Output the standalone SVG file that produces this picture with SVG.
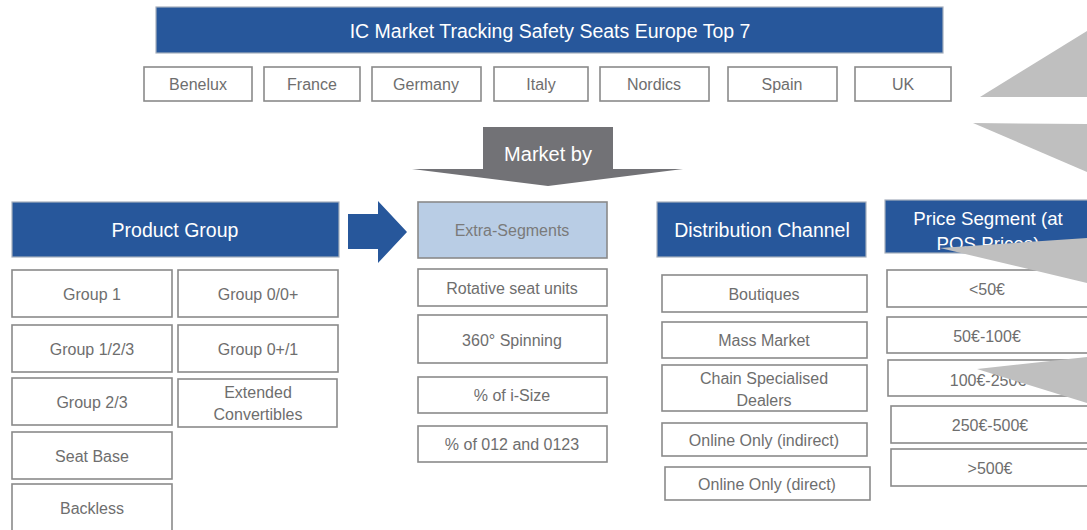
<svg xmlns="http://www.w3.org/2000/svg" width="1087" height="530" viewBox="0 0 1087 530">
<style>
  .hdr{fill:#27579b;stroke:#a6afbd;stroke-width:1.2}
  .box{fill:#ffffff;stroke:#8a8a8a;stroke-width:1.6}
  .ext{fill:#b9cde5;stroke:#8a8a8a;stroke-width:1.6}
  .t{font-family:"Liberation Sans",Arial,sans-serif;font-size:16px;fill:#6e6e6e;text-anchor:middle;dominant-baseline:central}
  .w{font-family:"Liberation Sans",Arial,sans-serif;font-size:19.5px;fill:#ffffff;text-anchor:middle;dominant-baseline:central}
  .tri{fill:#bfbfbf}
</style>
<rect width="1087" height="530" fill="#ffffff"/>

<g id="title">
  <rect class="hdr" x="156" y="7" width="787" height="46"/>
  <text class="w" x="550" y="31">IC Market Tracking Safety Seats Europe Top 7</text>
</g>

<g id="countries">
  <g id="c-benelux"><rect class="box" x="144" y="67" width="108" height="34"/><text class="t" x="198" y="84">Benelux</text></g>
  <g id="c-france"><rect class="box" x="264" y="67" width="96" height="34"/><text class="t" x="312" y="84">France</text></g>
  <g id="c-germany"><rect class="box" x="372" y="67" width="109" height="34"/><text class="t" x="426" y="84">Germany</text></g>
  <g id="c-italy"><rect class="box" x="494" y="67" width="94" height="34"/><text class="t" x="541" y="84">Italy</text></g>
  <g id="c-nordics"><rect class="box" x="600" y="67" width="109" height="34"/><text class="t" x="654" y="84">Nordics</text></g>
  <g id="c-spain"><rect class="box" x="728" y="67" width="109" height="34"/><text class="t" x="782" y="84">Spain</text></g>
  <g id="c-uk"><rect class="box" x="855" y="67" width="96" height="34"/><text class="t" x="903" y="84">UK</text></g>
</g>

<g id="connectors">
  <polygon id="market-by-arrow" fill="#727276" points="483,127 613,127 613,169 683,169 548,186 412,169 483,169"/>
  <text class="w" x="548" y="154" style="font-size:20px">Market by</text>
  <polygon id="right-arrow" fill="#27579b" points="348,214 378,214 378,201 407,232 378,263 378,249 348,249"/>
</g>

<g id="product-group">
  <rect class="hdr" x="12" y="202" width="327" height="55"/>
  <text class="w" x="175" y="230">Product Group</text>
  <g id="pg-1"><rect class="box" x="12" y="270" width="160" height="47"/><text class="t" x="92" y="294">Group 1</text></g>
  <g id="pg-00"><rect class="box" x="178" y="270" width="160" height="47"/><text class="t" x="258" y="294">Group 0/0+</text></g>
  <g id="pg-123"><rect class="box" x="12" y="325" width="160" height="47"/><text class="t" x="92" y="349">Group 1/2/3</text></g>
  <g id="pg-01"><rect class="box" x="178" y="325" width="160" height="47"/><text class="t" x="258" y="349">Group 0+/1</text></g>
  <g id="pg-23"><rect class="box" x="12" y="378" width="160" height="47"/><text class="t" x="92" y="402">Group 2/3</text></g>
  <g id="pg-ext"><rect class="box" x="178" y="379" width="159" height="48"/><text class="t" x="258" y="392">Extended</text><text class="t" x="258" y="414">Convertibles</text></g>
  <g id="pg-seat"><rect class="box" x="12" y="432" width="160" height="47"/><text class="t" x="92" y="456">Seat Base</text></g>
  <g id="pg-backless"><rect class="box" x="12" y="484" width="160" height="50"/><text class="t" x="92" y="508">Backless</text></g>
</g>

<g id="extra-segments">
  <rect class="ext" x="418" y="202" width="189" height="56"/>
  <text class="t" x="512" y="230" style="fill:#7a7a7a">Extra-Segments</text>
  <g id="es-rot"><rect class="box" x="418" y="269" width="189" height="37"/><text class="t" x="512" y="288">Rotative seat units</text></g>
  <g id="es-360"><rect class="box" x="418" y="315" width="189" height="48"/><text class="t" x="512" y="340">360° Spinning</text></g>
  <g id="es-isize"><rect class="box" x="418" y="377" width="189" height="36"/><text class="t" x="512" y="395">% of i-Size</text></g>
  <g id="es-012"><rect class="box" x="418" y="426" width="189" height="36"/><text class="t" x="512" y="444">% of 012 and 0123</text></g>
</g>

<g id="distribution-channel">
  <rect class="hdr" x="657" y="202" width="209" height="55"/>
  <text class="w" x="762" y="230">Distribution Channel</text>
  <g id="dc-bout"><rect class="box" x="662" y="275" width="205" height="37"/><text class="t" x="764" y="294">Boutiques</text></g>
  <g id="dc-mass"><rect class="box" x="662" y="322" width="205" height="36"/><text class="t" x="764" y="340">Mass Market</text></g>
  <g id="dc-chain"><rect class="box" x="662" y="365" width="205" height="46"/><text class="t" x="764" y="378">Chain Specialised</text><text class="t" x="764" y="400">Dealers</text></g>
  <g id="dc-ind"><rect class="box" x="662" y="423" width="205" height="33"/><text class="t" x="764" y="440">Online Only (indirect)</text></g>
  <g id="dc-dir"><rect class="box" x="665" y="467" width="205" height="33"/><text class="t" x="767" y="484">Online Only (direct)</text></g>
</g>

<g id="price-segment">
  <rect class="hdr" x="885" y="200" width="210" height="53"/>
  <text class="w" x="988" y="218" style="font-size:18.7px">Price Segment (at</text>
  <text class="w" x="988" y="243" style="font-size:18.7px">POS Prices)</text>
  <g id="ps-50"><rect class="box" x="887" y="270" width="210" height="37"/><text class="t" x="987" y="289">&lt;50€</text></g>
  <g id="ps-100"><rect class="box" x="887" y="317" width="210" height="36"/><text class="t" x="987" y="336">50€-100€</text></g>
  <g id="ps-250"><rect class="box" x="888" y="360" width="210" height="36"/><text class="t" x="988" y="380">100€-250€</text></g>
  <g id="ps-500"><rect class="box" x="891" y="406" width="210" height="37"/><text class="t" x="990" y="425">250€-500€</text></g>
  <g id="ps-gt500"><rect class="box" x="891" y="449" width="210" height="37"/><text class="t" x="990" y="468">&gt;500€</text></g>
</g>

<g id="callout-shapes">
  <polygon class="tri" points="980,97 1087,31 1087,97"/>
  <polygon class="tri" points="973,123 1087,124 1087,172"/>
  <polygon class="tri" points="940,248 1087,238 1087,283"/>
  <polygon class="tri" points="977,369 1087,357 1087,403"/>
</g>
</svg>
